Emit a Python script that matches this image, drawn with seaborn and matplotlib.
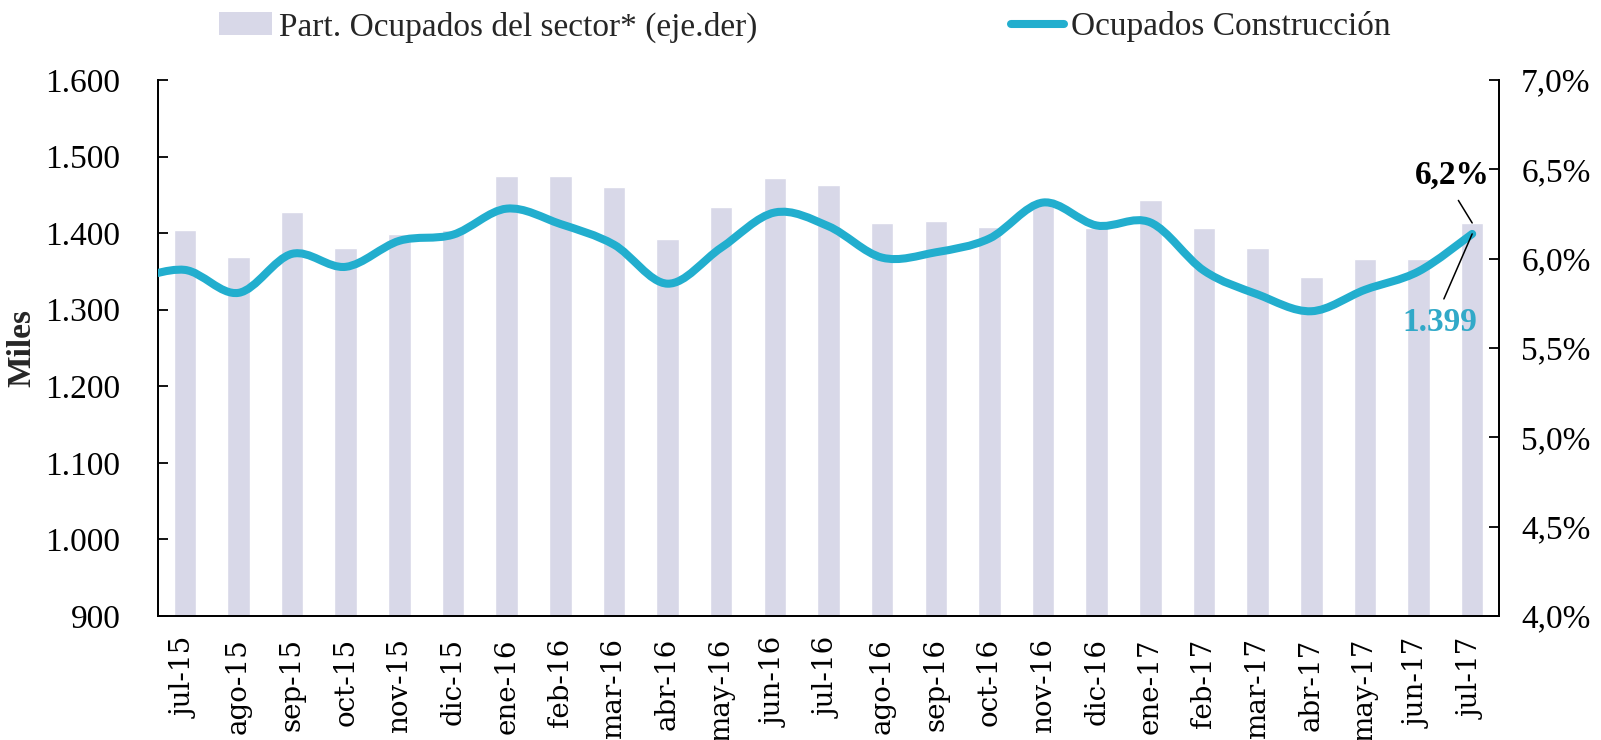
import numpy as np
import pandas as pd
import matplotlib
matplotlib.use('Agg')
import matplotlib.pyplot as plt
import matplotlib.path as mpath
from matplotlib.patches import PathPatch, Patch
from matplotlib.lines import Line2D
from matplotlib.ticker import FixedLocator, FuncFormatter
import seaborn as sns

# months shown on the x axis
meses = ['jul-15', 'ago-15', 'sep-15', 'oct-15', 'nov-15', 'dic-15',
         'ene-16', 'feb-16', 'mar-16', 'abr-16', 'may-16', 'jun-16',
         'jul-16', 'ago-16', 'sep-16', 'oct-16', 'nov-16', 'dic-16',
         'ene-17', 'feb-17', 'mar-17', 'abr-17', 'may-17', 'jun-17', 'jul-17']

# share of construction in total employment (%), right axis
part_sector = [6.16, 6.01, 6.26, 6.06, 6.14, 6.16, 6.46, 6.46, 6.40, 6.11,
               6.29, 6.45, 6.41, 6.20, 6.21, 6.18, 6.31, 6.17, 6.33, 6.17,
               6.06, 5.90, 6.00, 6.00, 6.20]

# employed in construction (thousands), left axis
# first value is jun-15, it sits just left of the visible window
ocupados = [1338, 1352, 1322, 1373, 1356, 1390, 1398, 1432, 1412, 1385, 1334,
            1381, 1427, 1409, 1368, 1375, 1393, 1440, 1410, 1414, 1351, 1320,
            1298, 1326, 1350, 1399]

bar_color = '#D8D8E8'
line_color = '#22AECE'
serif = 'Liberation Serif'

sns.set_style('white')
plt.rcParams['font.family'] = [serif, 'DejaVu Serif']

df = pd.DataFrame({'mes': meses, 'part': part_sector})

fig = plt.figure(figsize=(16.01, 7.40), dpi=100)
ax = fig.add_axes([158 / 1601, 1 - 616 / 740, 1341 / 1601, 536 / 740])

# bars on the right-hand percentage axis
sns.barplot(data=df, x='mes', y='part', ax=ax, color=bar_color,
            saturation=1, width=0.42, zorder=1)
ax.set_ylim(4.0, 7.0)
ax.set_xlim(-0.5, len(meses) - 0.5)
ax.set_xlabel('')
ax.set_ylabel('')

# line on a twin axis, moved to the left side
ax2 = ax.twinx()
ax.yaxis.tick_right()
ax.yaxis.set_label_position('right')
ax2.yaxis.tick_left()
ax2.yaxis.set_label_position('left')

ax.set_yticks(np.arange(4.0, 7.01, 0.5))
ax.yaxis.set_major_formatter(FuncFormatter(lambda v, p: '{:.1f}%'.format(v).replace('.', ',')))
ax2.set_ylim(900, 1600)
ax2.set_yticks(np.arange(900, 1601, 100))
ax2.yaxis.set_major_formatter(FuncFormatter(lambda v, p: '{:,.0f}'.format(v).replace(',', '.')))

# smoothed line (Bezier segments through the data points, like Excel's smooth line)
xs = np.arange(len(ocupados)) - 1.0
ys = np.array(ocupados, dtype=float)
pts = np.column_stack([xs, ys])
verts = [pts[0]]
codes = [mpath.Path.MOVETO]
for i in range(len(pts) - 1):
    p0 = pts[i - 1] if i > 0 else pts[i]
    p1 = pts[i]
    p2 = pts[i + 1]
    p3 = pts[i + 2] if i + 2 < len(pts) else pts[i + 1]
    verts += [p1 + (p2 - p0) / 6, p2 - (p3 - p1) / 6, p2]
    codes += [mpath.Path.CURVE4] * 3
curve = PathPatch(mpath.Path(verts, codes), facecolor='none', edgecolor=line_color,
                  lw=5.8, capstyle='round', joinstyle='round', zorder=3)
ax2.add_patch(curve)
ax2.set_xlim(-0.5, len(meses) - 0.5)

# axes styling
for a in (ax, ax2):
    a.spines['top'].set_visible(False)
    for s in ('left', 'right', 'bottom'):
        a.spines[s].set_color('black')
        a.spines[s].set_linewidth(1.3)
    a.grid(False)

ax.tick_params(axis='y', which='major', direction='in', length=7, width=1.3,
               pad=16, labelsize=24, colors='black', left=False, labelleft=False,
               right=True, labelright=True)
ax2.tick_params(axis='y', which='major', direction='in', length=7, width=1.3,
                pad=27, labelsize=24, colors='black', right=False, labelright=False,
                left=True, labelleft=True)
for lab in ax.get_yticklabels() + ax2.get_yticklabels():
    lab.set_fontfamily(serif)

ax.set_xticks(range(len(meses)))
ax.set_xticklabels(meses, rotation=90, fontsize=20, fontfamily='DejaVu Serif')
ax.tick_params(axis='x', which='major', length=0, pad=16, colors='black')
ax.xaxis.set_minor_locator(FixedLocator(np.arange(0.5, len(meses) - 1, 1.0)))
ax.tick_params(axis='x', which='minor', direction='in', length=6, width=1.3, color='black')

ax2.set_ylabel('Miles', fontsize=24, fontweight='bold', fontfamily=serif)
ax2.yaxis.set_label_coords(-0.090, 0.5)

# annotations on the last point
ax.annotate('6,2%', xy=(len(meses) - 1, part_sector[-1]), xytext=(-14, 34),
            textcoords='offset points', ha='center', va='center',
            fontsize=24, fontweight='bold', color='black', fontfamily=serif,
            arrowprops=dict(arrowstyle='-', color='black', lw=1.1,
                            relpos=(0.5, 0.0), shrinkA=5, shrinkB=0), zorder=5)
ax2.annotate('{:,.0f}'.format(ocupados[-1]).replace(',', '.'),
             xy=(len(meses) - 1, ocupados[-1]), xytext=(-23, -64),
             textcoords='offset points', ha='center', va='center',
             fontsize=24, fontweight='bold', color='#31A9C8', fontfamily=serif,
             arrowprops=dict(arrowstyle='-', color='black', lw=1.1,
                             relpos=(0.5, 1.0), shrinkA=4, shrinkB=0), zorder=5)

# legend across the top
handles = [Patch(facecolor=bar_color, edgecolor='none'),
           Line2D([0], [0], color=line_color, lw=5.8, solid_capstyle='round')]
labels = ['Part. Ocupados del sector* (eje.der)', 'Ocupados Construcción']
fig.legend(handles, labels, loc='center left', bbox_to_anchor=(219 / 1601, 1 - 27 / 740),
           ncol=2, frameon=False, columnspacing=7.6, handlelength=1.6,
           handletextpad=0.2, borderpad=0, borderaxespad=0,
           prop={'family': serif, 'size': 24})

fig.savefig('out.png', dpi=100)
